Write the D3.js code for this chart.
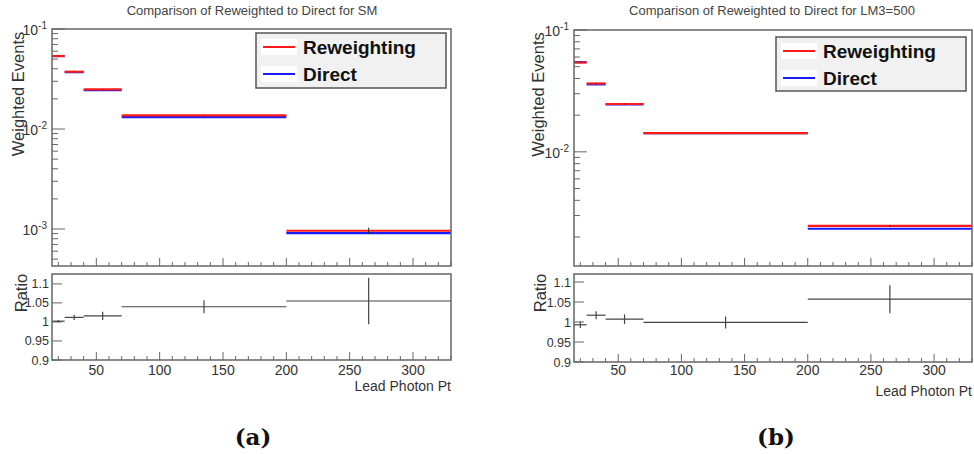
<!DOCTYPE html>
<html>
<head>
<meta charset="utf-8">
<script src="https://cdn.jsdelivr.net/npm/d3@7/dist/d3.min.js"></script>
<style>
  html, body { margin: 0; padding: 0; background: #fff; }
  svg { display: block; }
  text { font-family: "Liberation Sans", Arial, Helvetica, sans-serif; }
  text.tag { font-family: "DejaVu Serif", "Liberation Serif", serif; font-weight: bold; }
</style>
</head>
<body>
<svg id="fig" width="974" height="454"></svg>
<script>
// Lead photon pT bin edges shared by both samples
const binEdges = [15, 25, 40, 70, 200, 330];
const xTickValues = [50, 100, 150, 200, 250, 300];
const ratioTickValues = [0.9, 0.95, 1, 1.05, 1.1];
const ratioTickLabels = ["0.9", "0.95", "1", "1.05", "1.1"];

// SM sample
const smReweighted = [0.0537, 0.0374, 0.0249, 0.0137, 0.000961];
const smDirect     = [0.0536, 0.0370, 0.0245, 0.01317, 0.000911];
const smStatErr    = [0.0004, 0.0003, 0.0002, 0.0001, 0.00007];
const smRatio      = [1.002, 1.012, 1.016, 1.040, 1.055];
const smRatioErr   = [0.003, 0.007, 0.011, 0.017, 0.061];

// LM3=500 sample
const lmReweighted = [0.0541, 0.0364, 0.0247, 0.01422, 0.00247];
const lmDirect     = [0.0545, 0.0358, 0.0245, 0.01423, 0.002337];
const lmStatErr    = [0.0005, 0.0003, 0.0002, 0.0001, 0.00004];
const lmRatio      = [0.993, 1.017, 1.007, 0.999, 1.057];
const lmRatioErr   = [0.008, 0.010, 0.012, 0.015, 0.035];

const panelTitles = [
  "Comparison of Reweighted to Direct for SM",
  "Comparison of Reweighted to Direct for LM3=500"
];
const legendLabels = ["Reweighting", "Direct"];
const seriesColors = ["#ff1a1a", "#1a1aff"];
const panelTags = ["(a)", "(b)"];
const xAxisTitle = "Lead Photon Pt";
const yAxisTitle = "Weighted Events";
const ratioAxisTitle = "Ratio";

const svg = d3.select("#fig");
const frameColor = "#666";
const inkColor = "#333";

const panels = [
  {
    title: panelTitles[0], tag: panelTags[0],
    rew: smReweighted, dir: smDirect, err: smStatErr, ratio: smRatio, rerr: smRatioErr,
    x0: 52, x1: 451,
    top: { y0: 29, y1: 266, domain: [Math.pow(10, -3.37), 0.1] },
    low: { y0: 274, y1: 360, domain: [0.9, 1.126] },
    legend: { x: 256, y: 33, w: 190, h: 55 },
    titleX: 252, tagX: 253,
    yTitleX: 18, ratioTitleX: 21, xTitleY: 391
  },
  {
    title: panelTitles[1], tag: panelTags[1],
    rew: lmReweighted, dir: lmDirect, err: lmStatErr, ratio: lmRatio, rerr: lmRatioErr,
    x0: 574, x1: 972,
    top: { y0: 30, y1: 266, domain: [0.001156, 0.1] },
    low: { y0: 274, y1: 362, domain: [0.9, 1.12] },
    legend: { x: 776, y: 37, w: 190, h: 54 },
    titleX: 772, tagX: 776,
    yTitleX: 538, ratioTitleX: 540, xTitleY: 396
  }
];

panels.forEach(p => {
  const g = svg.append("g");
  const x = d3.scaleLinear().domain([binEdges[0], binEdges[binEdges.length - 1]]).range([p.x0, p.x1]);
  const y = d3.scaleLog().domain(p.top.domain).range([p.top.y1, p.top.y0]);
  const yr = d3.scaleLinear().domain(p.low.domain).range([p.low.y1, p.low.y0]);

  const bins = d3.range(binEdges.length - 1).map(i => ({
    lo: binEdges[i], hi: binEdges[i + 1], mid: (binEdges[i] + binEdges[i + 1]) / 2,
    rew: p.rew[i], dir: p.dir[i], err: p.err[i], ratio: p.ratio[i], rerr: p.rerr[i]
  }));

  // title
  g.append("text").attr("x", p.titleX).attr("y", 15).attr("text-anchor", "middle")
    .attr("font-size", 13).attr("fill", "#444").text(p.title);

  // ---- upper pad: histograms ----
  const xMinor = d3.range(20, 331, 10).filter(v => v % 50 !== 0);
  const drawXTicks = (yb) => {
    g.append("g").selectAll("line.xmaj").data(xTickValues).join("line")
      .attr("x1", d => x(d)).attr("x2", d => x(d)).attr("y1", yb).attr("y2", yb - 8)
      .attr("stroke", frameColor).attr("stroke-width", 1);
    g.append("g").selectAll("line.xmin").data(xMinor).join("line")
      .attr("x1", d => x(d)).attr("x2", d => x(d)).attr("y1", yb).attr("y2", yb - 4)
      .attr("stroke", frameColor).attr("stroke-width", 1);
  };
  drawXTicks(p.top.y1);

  // log y ticks
  const [ymin, ymax] = p.top.domain;
  const logTicks = [];
  for (let e = Math.floor(Math.log10(ymin)); e <= Math.ceil(Math.log10(ymax)); e++) {
    for (let m = 1; m <= 9; m++) {
      const v = m * Math.pow(10, e);
      if (v >= ymin * 0.999 && v <= ymax * 1.001) logTicks.push({ v, major: m === 1, e });
    }
  }
  g.append("g").selectAll("line").data(logTicks).join("line")
    .attr("x1", p.x0).attr("x2", d => p.x0 + (d.major ? 13 : 6))
    .attr("y1", d => y(d.v)).attr("y2", d => y(d.v))
    .attr("stroke", frameColor).attr("stroke-width", 1);
  const majLabels = g.append("g").selectAll("text").data(logTicks.filter(d => d.major)).join("text")
    .attr("x", p.x0 - 5).attr("y", d => y(d.v) + 6).attr("text-anchor", "end")
    .attr("font-size", 14).attr("fill", inkColor);
  majLabels.append("tspan").text("10");
  majLabels.append("tspan").attr("font-size", 10).attr("dy", -6).text(d => String(d.e));

  // direct (blue) under reweighted (red)
  const series = [
    { key: "dir", color: seriesColors[1] },
    { key: "rew", color: seriesColors[0] }
  ];
  series.forEach(s => {
    g.append("g").selectAll("line").data(bins).join("line")
      .attr("x1", d => x(d.lo)).attr("x2", d => x(d.hi))
      .attr("y1", d => y(d[s.key])).attr("y2", d => y(d[s.key]))
      .attr("stroke", s.color).attr("stroke-width", 2.2);
  });
  g.append("g").selectAll("line").data(bins).join("line")
    .attr("x1", d => x(d.mid)).attr("x2", d => x(d.mid))
    .attr("y1", d => y(d.rew - d.err)).attr("y2", d => y(d.rew + d.err))
    .attr("stroke", "#222").attr("stroke-width", 1);

  g.append("rect").attr("x", p.x0).attr("y", p.top.y0)
    .attr("width", p.x1 - p.x0).attr("height", p.top.y1 - p.top.y0)
    .attr("fill", "none").attr("stroke", frameColor).attr("stroke-width", 1.5);

  // legend
  const L = p.legend;
  g.append("rect").attr("x", L.x).attr("y", L.y).attr("width", L.w).attr("height", L.h)
    .attr("fill", "#f1f1f1").attr("stroke", "#555").attr("stroke-width", 1.5);
  legendLabels.forEach((lab, i) => {
    const cy = L.y + 14 + i * 27;
    g.append("rect").attr("x", L.x + 5).attr("y", cy - 8).attr("width", 36).attr("height", 16)
      .attr("fill", "#fff");
    g.append("line").attr("x1", L.x + 7).attr("x2", L.x + 39).attr("y1", cy).attr("y2", cy)
      .attr("stroke", seriesColors[i]).attr("stroke-width", 2);
    g.append("text").attr("x", L.x + 47).attr("y", cy + 7)
      .attr("font-size", 19).attr("font-weight", "bold").attr("fill", "#111").text(lab);
  });

  // y title
  g.append("text")
    .attr("transform", `translate(${p.yTitleX + 6},${(p.top.y0 + 157) / 2 + 1}) rotate(-90)`)
    .attr("text-anchor", "middle").attr("font-size", 16.5).attr("fill", inkColor).text(yAxisTitle);

  // ---- lower pad: ratio ----
  drawXTicks(p.low.y1);
  g.append("g").selectAll("line").data(ratioTickValues).join("line")
    .attr("x1", p.x0).attr("x2", p.x0 + 10)
    .attr("y1", d => yr(d)).attr("y2", d => yr(d))
    .attr("stroke", frameColor).attr("stroke-width", 1);
  g.append("g").selectAll("text").data(ratioTickValues).join("text")
    .attr("x", p.x0 - 3).attr("y", d => yr(d) + 4.5).attr("text-anchor", "end")
    .attr("font-size", 12.5).attr("fill", inkColor).text((d, i) => ratioTickLabels[i]);

  g.append("g").selectAll("line").data(bins).join("line")
    .attr("x1", d => x(d.lo)).attr("x2", d => x(d.hi))
    .attr("y1", d => yr(d.ratio)).attr("y2", d => yr(d.ratio))
    .attr("stroke", "#444").attr("stroke-width", 1.2);
  g.append("g").selectAll("line").data(bins).join("line")
    .attr("x1", d => x(d.mid)).attr("x2", d => x(d.mid))
    .attr("y1", d => yr(d.ratio - d.rerr)).attr("y2", d => yr(d.ratio + d.rerr))
    .attr("stroke", "#444").attr("stroke-width", 1.2);

  g.append("rect").attr("x", p.x0).attr("y", p.low.y0)
    .attr("width", p.x1 - p.x0).attr("height", p.low.y1 - p.low.y0)
    .attr("fill", "none").attr("stroke", frameColor).attr("stroke-width", 1.5);

  g.append("g").selectAll("text").data(xTickValues).join("text")
    .attr("x", d => x(d)).attr("y", 375).attr("text-anchor", "middle")
    .attr("font-size", 14).attr("fill", inkColor).text(d => d);

  g.append("text").attr("x", p.x1).attr("y", p.xTitleY).attr("text-anchor", "end")
    .attr("font-size", 14).attr("fill", inkColor).text(xAxisTitle);

  g.append("text")
    .attr("transform", `translate(${p.ratioTitleX + 6},293) rotate(-90)`)
    .attr("text-anchor", "middle").attr("font-size", 16.5).attr("fill", inkColor).text(ratioAxisTitle);

  // sub-figure tag
  svg.append("text").attr("class", "tag").attr("x", p.tagX).attr("y", 445)
    .attr("text-anchor", "middle").attr("font-size", 23).attr("fill", "#111").text(p.tag);
});
</script>
</body>
</html>
